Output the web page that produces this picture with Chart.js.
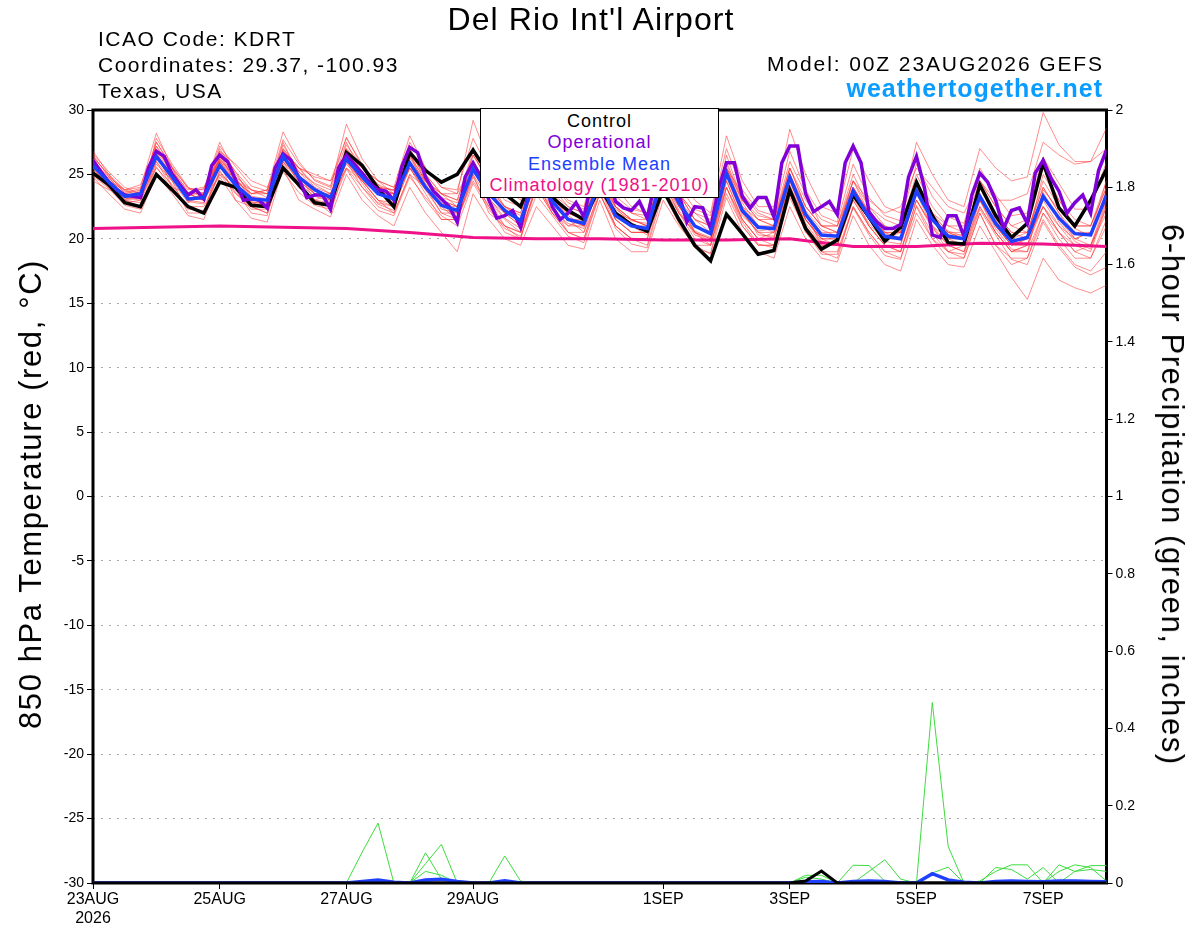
<!DOCTYPE html>
<html>
<head>
<meta charset="utf-8">
<script src="https://cdn.jsdelivr.net/npm/chart.js@4.4.1/dist/chart.umd.min.js"></script>
<style>
  body { margin: 0; background: #fff; font-family: "Liberation Sans", Arial, sans-serif; }
  #wrap { position: relative; width: 1200px; height: 927px; }
  #chart { position: absolute; left: 0; top: 0; }
  .txt { position: absolute; white-space: nowrap; color: #000; }
  .head { font-size: 21px; line-height: 26px; letter-spacing: 1.5px; }
  .rot { position: absolute; white-space: nowrap; font-size: 31px; letter-spacing: 1.6px; line-height: 36px; }
  #legendBox {
    position: absolute; left: 480px; top: 108px; width: 239px; height: 90px;
    border: 1.5px solid #000; background: #fff; text-align: center;
    font-size: 18px; letter-spacing: 1px; line-height: 21.3px; padding-top: 2px; box-sizing: border-box;
  }
</style>
</head>
<body>
<div id="wrap">
  <canvas id="chart" width="1200" height="927"></canvas>

  <div class="txt" style="left:0;width:1182px;top:1px;text-align:center;font-size:32px;line-height:36px;letter-spacing:1.1px;">Del Rio Int'l Airport</div>
  <div class="txt head" style="left:98px;top:26px;">ICAO Code: KDRT</div>
  <div class="txt head" style="left:98px;top:52px;">Coordinates: 29.37, -100.93</div>
  <div class="txt head" style="left:98px;top:78px;">Texas, USA</div>
  <div class="txt head" style="right:96px;top:51px;letter-spacing:1.9px;">Model: 00Z 23AUG2026 GEFS</div>
  <div class="txt" style="right:97px;top:74px;font-size:25px;line-height:28px;font-weight:bold;letter-spacing:1px;color:#0a9dff;">weathertogether.net</div>

  <div class="rot" style="left:31px;top:494px;transform:translate(-50%,-50%) rotate(-90deg);">850 hPa Temperature (red, °C)</div>
  <div class="rot" style="left:1172px;top:495px;transform:translate(-50%,-50%) rotate(90deg);">6-hour Precipitation (green, inches)</div>

  <div id="legendBox">
    <div style="color:#000;">Control</div>
    <div style="color:#8000d8;">Operational</div>
    <div style="color:#2040ff;">Ensemble Mean</div>
    <div style="color:#ee1188;">Climatology (1981-2010)</div>
  </div>
</div>

<script>
// x axis labels (hours after 23AUG 00Z)
const tickHours = [0, 48, 96, 144, 216, 264, 312, 360];
const tickLabels = ["23AUG", "25AUG", "27AUG", "29AUG", "1SEP", "3SEP", "5SEP", "7SEP"];

// 850 hPa temperature, 6-hourly (00,06,12,18Z per group of 4)
const controlTemp = [25.1,24.2,22.8,22.5, 25.0,23.8,22.5,22.0, 24.4,24.0,22.6,22.5, 25.5,24.2,22.8,22.6,
  26.7,25.7,23.9,22.5, 26.7,25.3,24.4,25.0, 26.9,25.0,23.5,22.5, 25.5,23.2,22.2,21.5,
  24.0,22.0,21.1,20.6, 23.8,21.5,19.5,18.3, 21.9,20.4,18.8,19.1, 23.8,20.8,19.2,19.9,
  23.4,21.7,19.8,20.9, 24.4,21.8,19.7,19.6, 24.2,21.8,20.1,21.2, 25.9,22.4,21.0,23.0, 25.4];

const meanTemp = [25.7,24.4,23.3,23.5, 26.4,24.8,23.1,23.2, 25.7,24.2,23.1,23.0, 26.4,24.8,23.8,23.2,
  26.2,24.8,23.5,23.1, 25.9,24.0,22.6,22.2, 25.4,23.5,22.2,21.4, 24.8,22.9,21.5,21.2,
  24.5,21.8,21.0,20.8, 25.0,22.8,21.0,20.4, 25.1,22.2,20.9,20.8, 24.8,21.9,20.3,20.2,
  23.7,21.7,20.2,20.0, 23.7,21.5,20.2,20.0, 23.3,21.2,19.8,20.1, 23.3,21.6,20.4,20.3, 23.4];

// operational run, 3-hourly
const operTemp = [26.1,25.2,24.4,23.8,23.4,23.3,23.2,25.5, 26.8,26.4,25.0,24.2,23.4,23.8,23.1,25.7,
  26.5,26.0,24.6,23.0,23.1,23.0,22.4,25.5, 26.6,26.1,24.7,23.2,23.4,23.4,22.3,25.5,
  26.5,25.8,25.1,24.3,23.8,23.7,23.0,25.6, 27.1,26.7,24.8,23.7,23.1,22.5,21.3,24.8,
  25.9,24.8,23.0,21.6,21.8,22.2,20.9,23.5, 25.5,24.5,22.5,21.5,22.0,22.8,21.7,24.5,
  26.0,25.0,22.9,22.4,22.2,22.9,21.6,24.5, 26.0,25.0,23.5,21.3,22.5,22.4,20.8,23.9,
  25.9,25.9,23.3,22.4,23.2,23.2,21.7,25.9, 27.2,27.2,23.5,22.1,22.5,22.9,21.9,25.9,
  27.2,25.9,22.1,21.3,20.8,20.8,21.1,24.8, 26.4,24.0,20.3,20.1,21.8,21.8,20.2,23.4,
  25.1,24.4,23.0,20.8,22.2,22.4,21.2,25.1, 26.1,24.7,23.7,22.0,22.8,23.4,22.0,25.3, 26.9];

// 1981-2010 climatology, daily at 00Z
const climTemp = [20.8,20.9,21.0,20.9,20.8,20.5,20.1,20.0,20.0,19.9,19.9,20.0,19.4,19.4,19.65,19.6,19.4];

// ensemble members, 6-hourly
const memberTemps = [
  [26.8,25.0,23.8,24.0, 28.2,25.5,23.6,23.9, 27.5,25.0,23.5,23.8, 28.3,26.0,24.5,24.0, 28.9,26.2,24.5,24.0, 28.0,25.5,24.0,23.5, 29.2,26.0,24.0,23.0, 27.5,24.5,23.0,22.5, 27.0,24.0,22.5,22.0, 27.8,25.0,23.0,22.0, 28.0,24.5,22.5,22.5, 28.5,25.0,22.5,22.0, 27.0,24.5,22.5,22.0, 27.5,25.0,23.0,22.5, 27.0,25.5,24.5,24.8, 29.8,27.3,26.0,26.0, 28.6],
  [24.8,23.5,22.3,22.0, 25.0,23.5,21.8,21.5, 24.8,23.0,21.6,21.3, 25.5,23.0,22.3,21.7, 25.0,23.0,21.8,21.0, 24.0,22.0,20.5,19.0, 23.5,21.5,20.0,19.5, 22.5,21.0,19.5,19.2, 23.0,20.0,19.0,19.0, 23.0,21.0,19.5,18.8, 23.2,20.5,19.0,18.5, 22.5,20.0,18.5,18.2, 21.8,19.5,18.0,17.5, 21.5,19.5,18.0,17.8, 21.0,19.0,17.0,15.3, 18.5,16.8,16.2,15.8, 16.4],
  [26.0,24.8,23.8,23.5, 27.5,25.5,23.0,22.8, 26.5,24.5,22.8,22.5, 27.0,25.5,24.2,23.5, 27.0,25.5,24.0,23.5, 26.5,24.5,23.0,22.5, 26.0,24.0,22.0,21.0, 25.5,23.5,22.0,21.5, 25.0,22.5,21.5,21.0, 26.0,23.5,21.5,20.5, 26.5,23.0,21.5,21.0, 25.5,22.5,21.0,20.5, 24.5,22.5,21.0,20.5, 24.5,22.0,21.0,20.5, 24.0,22.0,20.5,20.5, 24.5,22.5,21.0,21.0, 24.0],
  [25.5,24.0,22.8,23.0, 26.0,24.0,22.5,22.5, 25.0,23.5,22.5,22.8, 26.0,24.5,23.5,23.0, 25.5,24.0,22.8,22.5, 25.5,23.8,22.0,21.5, 25.0,23.0,21.5,20.5, 24.0,22.5,20.5,20.5, 23.5,21.0,20.0,20.0, 24.0,22.0,20.5,19.8, 24.5,21.5,20.0,20.0, 24.0,21.0,19.5,19.5, 23.0,21.0,19.5,19.0, 23.0,20.8,19.5,19.5, 22.5,20.5,19.0,19.5, 22.5,21.0,19.5,19.5, 22.5],
  [26.3,25.0,23.5,23.8, 27.0,25.2,23.8,24.0, 26.2,24.8,23.8,23.5, 27.3,25.2,24.3,23.8, 27.5,25.0,24.0,23.8, 27.0,25.0,23.5,23.0, 26.5,24.5,23.0,22.5, 26.0,24.0,22.5,22.0, 25.5,22.8,22.0,21.8, 26.0,23.5,22.0,21.5, 26.0,23.0,21.8,21.5, 25.5,23.0,21.5,21.0, 25.0,22.5,21.5,21.0, 25.0,22.5,21.0,21.0, 24.5,22.5,21.0,21.5, 25.5,23.0,21.5,21.0, 24.5],
  [25.0,24.0,23.0,23.2, 26.5,24.5,22.8,23.5, 25.5,24.5,23.8,23.5, 25.8,24.0,23.0,22.8, 26.5,25.5,24.5,23.5, 27.0,24.5,22.5,21.5, 24.5,22.5,21.0,20.5, 25.0,23.5,21.5,21.5, 24.0,21.5,20.5,20.5, 25.5,23.0,20.5,19.5, 24.5,21.5,20.0,20.5, 25.0,22.0,19.5,19.5, 24.0,22.0,20.0,20.5, 24.5,22.0,19.5,19.0, 23.0,20.5,19.0,19.5, 23.5,21.5,20.0,20.5, 23.5],
  [26.5,24.8,23.2,23.0, 27.8,25.8,24.0,23.5, 26.8,25.8,24.5,24.0, 26.8,25.5,24.8,24.5, 27.8,25.8,24.0,23.5, 26.5,25.0,23.5,22.5, 25.5,24.8,23.5,22.5, 25.5,23.0,21.5,20.5, 24.5,22.0,21.5,21.5, 25.0,22.5,20.5,20.0, 25.5,22.5,21.5,21.5, 26.0,23.5,21.0,21.0, 24.0,22.0,21.0,20.5, 24.5,21.5,20.5,20.0, 24.5,22.5,21.0,20.5, 24.0,22.0,20.0,19.5, 23.0],
  [24.5,23.8,23.5,23.3, 25.5,24.2,22.5,22.0, 25.2,23.8,22.0,21.8, 26.0,24.8,24.0,23.5, 25.8,24.5,23.0,22.0, 25.0,23.0,21.5,21.5, 24.8,22.5,20.5,20.0, 24.0,22.0,20.5,20.0, 24.0,21.0,20.0,19.5, 24.0,21.5,19.5,19.5, 23.5,21.0,19.5,19.5, 23.5,20.5,19.0,19.0, 22.5,20.5,19.0,18.5, 22.0,20.0,18.5,18.5, 22.0,19.5,18.0,18.5, 21.5,19.5,18.0,17.5, 19.0],
  [26.0,24.2,23.0,23.8, 26.8,24.0,23.5,23.0, 26.5,24.8,23.0,23.0, 27.0,25.5,24.0,23.0, 26.0,24.5,23.0,22.8, 26.0,24.0,22.8,22.0, 25.8,23.5,22.0,21.5, 25.0,23.0,21.5,21.0, 24.8,22.0,21.0,20.8, 25.5,23.0,21.0,20.5, 25.0,22.0,20.5,20.5, 24.5,21.5,20.0,20.0, 23.5,21.5,20.0,20.0, 24.0,21.5,20.0,19.5, 23.0,21.0,19.5,19.5, 23.0,21.0,20.0,20.5, 23.0],
  [25.2,24.5,23.5,23.2, 26.2,25.0,23.5,23.0, 25.0,24.0,22.8,22.8, 26.5,24.8,23.5,23.0, 25.5,24.5,23.5,23.0, 25.5,24.5,23.5,23.5, 26.0,23.5,22.0,21.0, 24.5,22.5,21.0,21.5, 24.5,22.5,21.5,21.0, 25.0,22.5,21.0,20.5, 25.5,22.5,21.0,20.5, 24.0,21.5,20.0,19.5, 23.5,21.5,20.5,20.5, 23.0,21.0,20.0,20.0, 23.5,21.0,19.5,20.0, 22.5,20.5,19.0,19.5, 22.0],
  [26.2,24.5,23.2,23.5, 26.5,24.8,23.5,23.5, 26.0,24.5,23.5,23.5, 26.5,25.5,25.0,24.5, 26.5,25.0,23.5,23.5, 25.5,23.8,22.5,22.5, 26.5,24.5,22.5,22.0, 25.5,23.5,22.5,22.0, 25.5,23.0,22.0,21.5, 25.0,23.5,22.0,21.0, 25.5,23.5,22.0,21.5, 25.0,22.5,21.0,21.0, 24.5,23.0,22.0,22.5, 25.5,24.0,22.5,22.0, 24.5,23.0,23.0,23.5, 27.5,26.5,25.8,26.0, 27.0],
  [25.8,24.5,23.8,24.2, 27.2,25.5,24.0,23.0, 27.0,25.2,23.2,22.5, 26.8,25.0,23.0,22.5, 26.8,25.0,23.5,23.5, 26.5,24.0,22.0,22.0, 25.5,23.0,22.0,21.5, 24.5,22.0,21.0,21.0, 24.0,21.5,20.5,20.5, 24.5,22.5,21.0,20.5, 25.0,22.0,20.5,20.0, 24.5,21.5,20.0,20.0, 23.5,21.0,19.5,19.5, 23.5,21.0,19.0,19.5, 23.5,21.0,19.5,20.0, 22.5,20.5,19.5,19.0, 22.5],
  [25.5,24.0,23.0,22.5, 25.8,24.5,22.0,22.0, 26.0,23.0,22.5,22.0, 25.5,24.0,23.0,22.0, 26.0,24.5,23.0,22.5, 25.5,23.5,21.5,21.5, 25.0,22.0,21.0,20.5, 24.0,22.0,20.5,20.0, 23.5,21.0,20.0,20.0, 24.5,22.0,20.0,19.5, 24.0,21.0,19.5,19.5, 23.5,21.0,19.0,18.5, 22.5,20.5,19.0,19.0, 22.5,20.0,19.0,18.5, 22.0,19.5,18.5,18.5, 22.0,20.0,18.5,18.5, 21.0],
  [26.6,25.2,24.0,23.5, 26.8,25.0,23.0,23.5, 26.2,24.5,23.5,23.8, 26.2,24.5,23.5,23.5, 26.5,25.0,24.0,23.8, 26.5,24.5,23.0,22.5, 26.0,24.0,22.5,22.0, 25.5,23.5,22.0,21.5, 25.0,22.5,21.5,21.0, 26.0,23.5,21.5,21.0, 25.5,23.0,21.5,21.0, 25.5,22.5,21.0,20.5, 24.5,22.0,20.5,20.5, 24.5,22.0,20.5,20.5, 24.0,21.5,20.0,20.5, 24.0,22.0,20.5,20.5, 24.5],
  [25.3,24.2,23.0,22.8, 26.0,24.5,23.5,23.0, 26.0,24.0,22.5,22.0, 26.0,24.0,23.0,23.5, 26.0,24.0,22.5,22.0, 25.0,24.0,22.8,21.5, 25.5,23.0,21.0,20.0, 24.5,22.8,21.5,21.0, 24.0,21.5,20.5,20.5, 24.5,22.0,20.5,20.0, 24.0,21.5,20.0,19.5, 24.0,21.5,19.8,19.5, 23.0,21.0,19.5,19.0, 23.0,21.0,19.5,19.0, 22.5,20.5,19.0,19.0, 22.0,20.5,19.0,18.5, 21.5],
  [26.2,24.6,23.4,23.6, 27.2,25.0,23.2,23.0, 26.8,25.2,23.8,23.2, 27.5,25.0,23.5,23.0, 27.0,25.5,24.5,24.0, 26.0,24.5,23.5,23.0, 26.8,24.0,22.5,21.5, 25.0,23.0,22.0,21.5, 25.5,22.5,21.0,21.0, 25.5,23.0,21.5,21.0, 25.8,22.8,21.0,21.0, 25.0,22.0,20.5,20.5, 24.0,22.0,20.5,20.0, 24.0,21.5,20.5,20.0, 24.0,22.0,20.5,20.0, 25.0,23.0,21.0,21.0, 24.0],
  [25.9,24.3,23.1,23.3, 26.6,24.9,22.9,22.7, 26.3,24.6,23.3,23.1, 26.9,25.2,23.9,23.3, 26.4,24.3,22.7,22.2, 26.8,24.8,23.2,22.8, 25.3,23.2,21.6,20.8, 24.8,23.3,21.8,21.0, 24.8,22.3,21.4,21.2, 25.3,22.6,20.6,20.1, 24.8,21.8,20.6,20.8, 24.2,21.2,19.6,19.8, 23.9,21.9,20.4,20.1, 24.2,21.8,20.6,20.2, 23.4,21.4,19.8,20.2, 23.6,21.3,19.8,19.2, 22.8],
  [25.6,24.7,23.6,23.9, 26.9,25.3,23.4,23.6, 26.1,24.2,22.9,22.6, 26.3,24.3,23.3,22.9, 27.3,25.6,24.2,23.1, 26.3,24.3,22.3,22.0, 25.2,23.8,22.5,21.8, 24.2,22.2,21.2,20.8, 24.6,22.0,21.0,20.3, 24.8,22.2,20.3,19.8, 25.2,22.3,20.3,20.2, 24.8,22.2,20.7,20.2, 23.2,21.2,19.8,19.6, 23.8,21.8,20.3,20.3, 23.0,20.8,19.2,19.0, 23.8,22.3,20.8,20.2, 23.8],
  [24.9,23.9,22.6,22.3, 25.6,23.8,22.3,22.2, 25.3,23.6,22.3,22.3, 25.2,23.6,22.6,22.3, 25.4,23.6,22.2,21.8, 24.8,23.2,21.8,21.0, 24.3,22.3,20.8,20.2, 23.4,21.8,20.2,19.7, 23.5,20.8,19.6,19.3, 23.6,21.2,19.3,18.9, 24.0,21.3,19.6,19.3, 23.2,20.6,18.8,18.8, 22.4,20.3,18.7,18.4, 22.6,20.4,19.0,18.8, 22.3,20.3,18.4,18.0, 21.3,19.3,17.8,17.2, 17.8],
  [26.4,24.9,23.7,23.4, 27.5,25.6,23.9,23.8, 27.2,25.6,24.1,23.7, 27.7,25.8,24.6,24.1, 27.9,25.6,24.2,23.7, 27.5,25.5,24.0,23.8, 27.8,25.3,23.3,22.6, 26.3,24.3,22.8,22.3, 26.0,23.3,22.3,22.0, 26.8,24.2,22.3,21.8, 27.0,23.8,22.2,21.8, 26.8,23.8,21.8,21.3, 25.8,23.2,21.8,21.4, 25.8,23.3,21.7,21.2, 25.5,23.4,21.8,22.0, 26.3,24.3,22.3,22.3, 26.0]
];

// 6-hour precipitation (inches), 6-hourly
const controlPrecip = [0,0,0,0, 0,0,0,0, 0,0,0,0, 0,0,0,0, 0,0,0,0, 0,0,0,0, 0,0,0,0, 0,0,0,0,
  0,0,0,0, 0,0,0,0, 0,0,0,0, 0,.005,.031,0, 0,0,0,0, 0,0,0,0, 0,0,0,0, 0,0,0,0, 0];
const meanPrecip = [0,0,0,0, 0,0,0,0, 0,0,0,0, 0,0,0,0, 0,.004,.008,.002, 0,.008,.01,.004, 0,0,.006,0, 0,0,0,0,
  0,0,0,0, 0,0,0,0, 0,0,0,0, 0,.003,.004,0, .004,.005,.004,0, 0,.024,.008,.002, 0,.004,.005,.004, .003,.005,.005,.004, .003];
const memberPrecips = [
  [0,0,0,0, 0,0,0,0, 0,0,0,0, 0,0,0,0, 0,.08,.155,0, 0,0,0,0, 0,0,0,0, 0,0,0,0, 0,0,0,0, 0,0,0,0, 0,0,0,0, 0,0,0,0, 0,0,0,0, 0,0,0,0, 0,0,0,0, 0,0,0,0, 0],
  [0,0,0,0, 0,0,0,0, 0,0,0,0, 0,0,0,0, 0,0,0,0, 0,.078,.01,0, 0,0,0,0, 0,0,0,0, 0,0,0,0, 0,0,0,0, 0,0,0,0, 0,0,0,0, 0,0,0,0, 0,0,0,0, 0,0,0,0, 0,0,0,0, 0],
  [0,0,0,0, 0,0,0,0, 0,0,0,0, 0,0,0,0, 0,0,0,0, 0,.05,.10,0, 0,0,0,0, 0,0,0,0, 0,0,0,0, 0,0,0,0, 0,0,0,0, 0,0,0,0, 0,0,0,0, 0,0,0,0, 0,0,0,0, 0,0,0,0, 0],
  [0,0,0,0, 0,0,0,0, 0,0,0,0, 0,0,0,0, 0,0,0,0, 0,.03,.02,0, 0,0,0,0, 0,0,0,0, 0,0,0,0, 0,0,0,0, 0,0,0,0, 0,0,0,0, 0,0,0,0, 0,0,0,0, 0,0,0,0, 0,0,0,0, 0],
  [0,0,0,0, 0,0,0,0, 0,0,0,0, 0,0,0,0, 0,0,0,0, 0,0,0,0, 0,0,.07,.005, 0,0,0,0, 0,0,0,0, 0,0,0,0, 0,0,0,0, 0,0,0,0, 0,0,0,0, 0,0,0,0, 0,0,0,0, 0,0,0,0, 0],
  [0,0,0,0, 0,0,0,0, 0,0,0,0, 0,0,0,0, 0,0,0,0, 0,0,0,0, 0,0,0,0, 0,0,0,0, 0,0,0,0, 0,0,0,0, 0,0,0,0, 0,.02,.02,0, .046,.045,.005,0, 0,0,0,0, 0,0,0,0, 0,0,0,0, 0],
  [0,0,0,0, 0,0,0,0, 0,0,0,0, 0,0,0,0, 0,0,0,0, 0,0,0,0, 0,0,0,0, 0,0,0,0, 0,0,0,0, 0,0,0,0, 0,0,0,0, 0,.015,.01,0, 0,.03,.06,.01, 0,0,0,0, 0,0,0,0, 0,0,0,0, 0],
  [0,0,0,0, 0,0,0,0, 0,0,0,0, 0,0,0,0, 0,0,0,0, 0,0,0,0, 0,0,0,0, 0,0,0,0, 0,0,0,0, 0,0,0,0, 0,0,0,0, 0,0,0,0, 0,0,0,0, 0,.467,.095,0, 0,0,0,0, 0,0,0,0, 0],
  [0,0,0,0, 0,0,0,0, 0,0,0,0, 0,0,0,0, 0,0,0,0, 0,0,0,0, 0,0,0,0, 0,0,0,0, 0,0,0,0, 0,0,0,0, 0,0,0,0, 0,0,0,0, 0,0,0,0, 0,.026,.041,0, .005,.03,.047,.047, 0,0,0,0, 0],
  [0,0,0,0, 0,0,0,0, 0,0,0,0, 0,0,0,0, 0,0,0,0, 0,0,0,0, 0,0,0,0, 0,0,0,0, 0,0,0,0, 0,0,0,0, 0,0,0,0, 0,0,0,0, 0,0,0,0, 0,0,0,0, 0,.04,.035,.01, .04,0,.03,.035, .03],
  [0,0,0,0, 0,0,0,0, 0,0,0,0, 0,0,0,0, 0,0,0,0, 0,0,0,0, 0,0,0,0, 0,0,0,0, 0,0,0,0, 0,0,0,0, 0,0,0,0, 0,0,0,0, 0,0,0,0, 0,0,0,0, 0,0,0,0, 0,.047,.03,.045, .045],
  [0,0,0,0, 0,0,0,0, 0,0,0,0, 0,0,0,0, 0,0,0,0, 0,0,0,0, 0,0,0,0, 0,0,0,0, 0,0,0,0, 0,0,0,0, 0,0,0,0, 0,0,0,0, 0,0,0,0, 0,0,0,0, 0,0,0,0, 0,.03,.047,.04, .005]
];

const MEMBER_RED = "rgba(255,45,45,0.6)";
const GREEN = "#3ddc3d";

function pts(values, stepHours) {
  return values.map((v, i) => ({ x: i * stepHours, y: v }));
}

const datasets = [];
datasets.push({ data: pts(meanTemp, 6), borderColor: "#2040ff", borderWidth: 3.5, order: 1, yAxisID: "y" });
datasets.push({ data: pts(operTemp, 3), borderColor: "#8000d8", borderWidth: 3.5, order: 2, yAxisID: "y" });
datasets.push({ data: pts(controlTemp, 6), borderColor: "#000", borderWidth: 3.5, order: 3, yAxisID: "y" });
datasets.push({ data: pts(climTemp, 24), borderColor: "#ee1188", borderWidth: 3, order: 4, yAxisID: "y" });
memberTemps.forEach(m => {
  datasets.push({ data: pts(m, 6), borderColor: MEMBER_RED, borderWidth: 0.9, order: 10, yAxisID: "y" });
});
// precip: control drawn over the mean, both over the members
datasets.push({ data: pts(controlPrecip, 6), borderColor: "#000", borderWidth: 3, order: 5, yAxisID: "y2" });
datasets.push({ data: pts(meanPrecip, 6), borderColor: "#2040ff", borderWidth: 3.5, order: 6, yAxisID: "y2" });
memberPrecips.forEach(m => {
  datasets.push({ data: pts(m, 6), borderColor: GREEN, borderWidth: 1, order: 7, yAxisID: "y2" });
});

// black frame round the plot area, drawn under the lines
const frame = {
  id: "frame",
  beforeDatasetsDraw(chart) {
    const { ctx, chartArea: a } = chart;
    ctx.save();
    ctx.strokeStyle = "#000";
    ctx.lineWidth = 3;
    ctx.strokeRect(a.left, a.top, a.right - a.left, a.bottom - a.top);
    ctx.restore();
  }
};

const tickFont = { family: "Liberation Sans", size: 14 };

new Chart(document.getElementById("chart").getContext("2d"), {
  type: "line",
  data: { datasets },
  plugins: [frame],
  options: {
    responsive: false,
    animation: false,
    devicePixelRatio: 1,
    layout: { padding: { top: 110, left: 0, right: 0, bottom: 0 } },
    elements: { point: { radius: 0 }, line: { tension: 0, fill: false } },
    plugins: { legend: { display: false }, tooltip: { enabled: false } },
    scales: {
      x: {
        type: "linear",
        min: 0,
        max: 384,
        afterBuildTicks: s => { s.ticks = tickHours.map(v => ({ value: v })); },
        afterFit: s => { s.height = 44; },
        ticks: {
          autoSkip: false,
          maxRotation: 0,
          padding: 1,
          color: "#000",
          font: { family: "Liberation Sans", size: 16 },
          callback: v => {
            const k = tickHours.indexOf(v);
            if (k < 0) return "";
            return k === 0 ? [tickLabels[0], "2026"] : tickLabels[k];
          }
        },
        grid: { drawOnChartArea: false, tickLength: 6, tickColor: "#000" },
        border: { display: false }
      },
      y: {
        position: "left",
        min: -30,
        max: 30,
        afterFit: s => { s.width = 93; },
        ticks: { stepSize: 5, color: "#000", font: tickFont },
        grid: { color: "#aaa", lineWidth: 1, tickLength: 6, tickColor: "#000" },
        border: { display: false, dash: [2, 6] }
      },
      y2: {
        position: "right",
        min: 0,
        max: 2,
        afterFit: s => { s.width = 93.5; },
        ticks: {
          stepSize: 0.2,
          color: "#000",
          font: tickFont,
          callback: v => String(Number(v.toFixed(1)))
        },
        grid: { drawOnChartArea: false, tickLength: 6, tickColor: "#000" },
        border: { display: false }
      }
    }
  }
});
</script>
</body>
</html>
